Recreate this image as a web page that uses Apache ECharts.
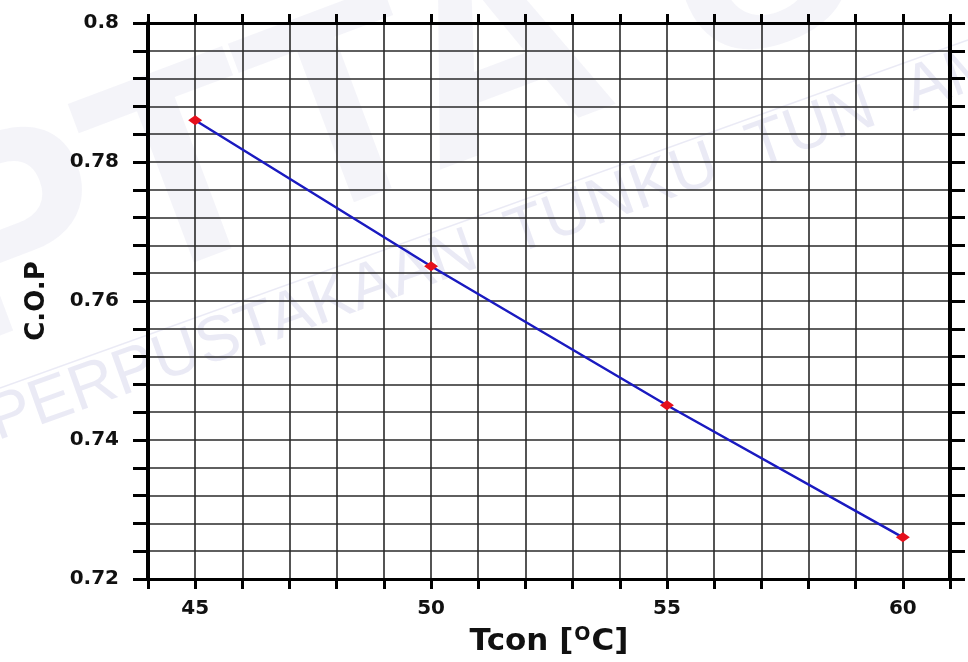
<!DOCTYPE html>
<html>
<head>
<meta charset="utf-8">
<title>C.O.P vs Tcon</title>
<script src="https://cdn.jsdelivr.net/npm/echarts@6/dist/echarts.min.js"></script>
<style>
  html, body { margin: 0; padding: 0; background: #ffffff; }
  #chart { width: 968px; height: 662px; }
</style>
</head>
<body>
<div id="chart"></div>
<script>
// Condenser temperature (°C) and coefficient of performance
const tcon = [45, 50, 55, 60];
const cop = [0.786, 0.765, 0.745, 0.726];

// Labelled ticks
const xTickLabels = [45, 50, 55, 60];
const yTickLabels = [0.72, 0.74, 0.76, 0.78, 0.8];

const FONT = 'DejaVu Sans';
const near = (v, list) => list.some(t => Math.abs(v - t) < 1e-6);

const frameLine = (w) => ({ show: true, lineStyle: { color: '#000', width: w } });
const tickStyle = (len, w) => ({ show: true, inside: false, length: len, lineStyle: { color: '#000', width: w } });

const WM = 'rgba(175,175,215,0.26)';
const chart = echarts.init(document.getElementById('chart'), null, { renderer: 'canvas' });

chart.setOption({
  backgroundColor: '#ffffff',
  animation: false,
  grid: { left: 148, right: 18, top: 23, bottom: 83, containLabel: false, outerBoundsMode: 'none' },
  // library stamp behind the plot
  graphic: [
    {
      type: 'text', z: -1, x: -20, y: 410, rotation: 0.36,
      style: {
        text: 'PTTA UTHM',
        font: '700 280px "Liberation Sans Narrow", "Liberation Sans"',
        fill: 'rgba(175,175,215,0.14)',
        textVerticalAlign: 'bottom'
      }
    },
    {
      type: 'line', z: -1,
      shape: { x1: 0, y1: 388, x2: 968, y2: 40 },
      style: { stroke: WM, lineWidth: 1.5 }
    },
    {
      type: 'text', z: -1, x: 2, y: 454, rotation: 0.345,
      style: {
        text: 'PERPUSTAKAAN  TUNKU  TUN  AMINAH',
        font: '400 64px "Liberation Sans"',
        fill: WM,
        textVerticalAlign: 'bottom'
      }
    }
  ],
  xAxis: [
    {
      type: 'value', position: 'bottom', min: 44, max: 61, interval: 1,
      axisLine: frameLine(3),
      axisTick: tickStyle(10, 3),
      splitLine: { show: true, lineStyle: { color: '#2a2a2a', width: 1.6 } },
      axisLabel: {
        margin: 20, color: '#111', fontFamily: FONT, fontWeight: 'bold', fontSize: 20,
        formatter: v => (near(v, xTickLabels) ? String(v) : '')
      },
      name: '{b|Tcon [}{sup|O}{b|C]}',
      nameLocation: 'middle', nameGap: 47,
      nameTextStyle: {
        color: '#111', fontFamily: FONT, fontWeight: 'bold', fontSize: 31,
        rich: {
          b: { color: '#111', fontFamily: FONT, fontWeight: 'bold', fontSize: 31 },
          sup: { color: '#111', fontFamily: FONT, fontWeight: 'bold', fontSize: 19, verticalAlign: 'top', padding: [0, 1, 12, 1] }
        }
      }
    },
    {
      type: 'value', position: 'top', min: 44, max: 61, interval: 1,
      axisLine: frameLine(3),
      axisTick: tickStyle(9, 3),
      splitLine: { show: false },
      axisLabel: { show: false }
    }
  ],
  yAxis: [
    {
      type: 'value', position: 'left', min: 0.72, max: 0.8, interval: 0.004,
      axisLine: frameLine(4),
      axisTick: tickStyle(15, 3),
      splitLine: { show: true, lineStyle: { color: '#2a2a2a', width: 1.6 } },
      axisLabel: {
        margin: 29, color: '#111', fontFamily: FONT, fontWeight: 'bold', fontSize: 20,
        formatter: v => (near(v, yTickLabels) ? String(Math.round(v * 100) / 100) : '')
      },
      name: 'C.O.P',
      nameLocation: 'middle', nameGap: 98,
      nameTextStyle: { color: '#111', fontFamily: FONT, fontWeight: 'bold', fontSize: 26 }
    },
    {
      type: 'value', position: 'right', min: 0.72, max: 0.8, interval: 0.004,
      axisLine: frameLine(4),
      axisTick: tickStyle(15, 3),
      splitLine: { show: false },
      axisLabel: { show: false }
    }
  ],
  series: [
    {
      type: 'line',
      xAxisIndex: 0, yAxisIndex: 0,
      data: tcon.map((t, i) => [t, cop[i]]),
      lineStyle: { color: '#1a1ac0', width: 2.5 },
      symbol: 'diamond',
      symbolSize: [14, 10],
      itemStyle: { color: '#e5101c', borderWidth: 0 },
      z: 5
    }
  ]
});
</script>
</body>
</html>
